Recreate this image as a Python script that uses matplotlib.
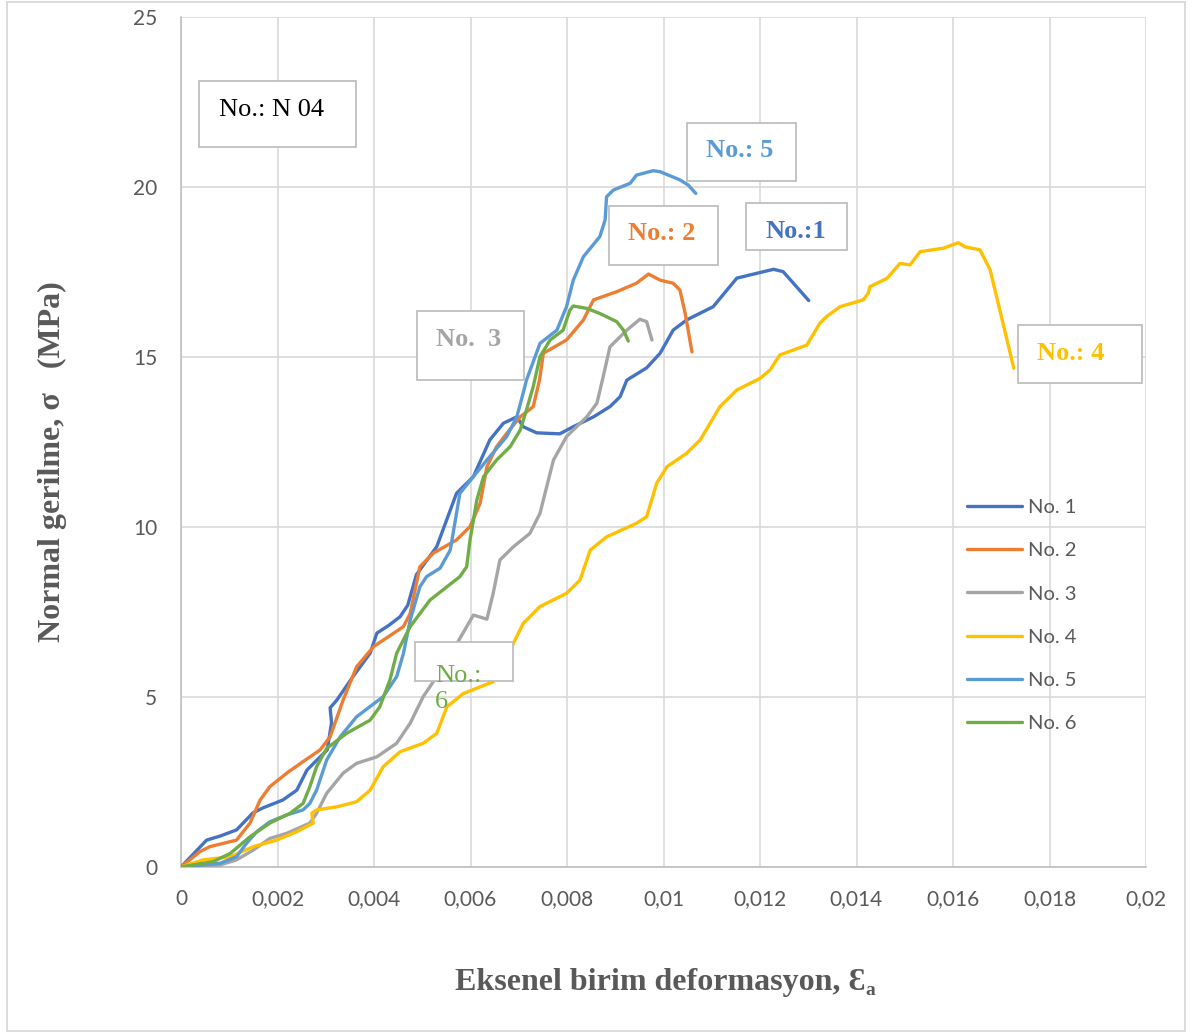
import matplotlib
matplotlib.use("Agg")
import matplotlib.pyplot as plt
from matplotlib.patches import Rectangle

# ---------------- data (strain, stress MPa) ----------------
series_names = ["No. 1", "No. 2", "No. 3", "No. 4", "No. 5", "No. 6"]
series_colors = ["#4472C4", "#ED7D31", "#A5A5A5", "#FFC000", "#5B9BD5", "#70AD47"]

strain_1 = [0, 0.00053, 0.00081, 0.00115, 0.00149, 0.00170, 0.00211, 0.00240, 0.00261, 0.00282,
            0.00303, 0.00312, 0.00309, 0.00323, 0.00356, 0.00392, 0.00406, 0.00430, 0.00454,
            0.00470, 0.00488, 0.00530, 0.00571, 0.00606, 0.00640, 0.00668, 0.00696, 0.00709,
            0.00737, 0.00785, 0.00813, 0.00855, 0.00889, 0.00910, 0.00924, 0.00965, 0.00993,
            0.01020, 0.01048, 0.01103, 0.01152, 0.01228, 0.01248, 0.01301]
stress_1 = [0, 0.79, 0.91, 1.09, 1.59, 1.74, 1.97, 2.26, 2.85, 3.15,
            3.44, 4.24, 4.68, 4.91, 5.59, 6.29, 6.88, 7.10, 7.36,
            7.70, 8.60, 9.42, 10.99, 11.48, 12.56, 13.05, 13.24, 12.95,
            12.77, 12.74, 12.95, 13.24, 13.54, 13.83, 14.32, 14.68, 15.11,
            15.79, 16.09, 16.48, 17.32, 17.58, 17.51, 16.66]

strain_2 = [0, 0.00039, 0.00060, 0.00115, 0.00143, 0.00164, 0.00184, 0.00219, 0.00253, 0.00288,
            0.00309, 0.00336, 0.00364, 0.00399, 0.00461, 0.00475, 0.00495, 0.00523, 0.00571,
            0.00599, 0.00620, 0.00634, 0.00654, 0.00675, 0.00703, 0.00730, 0.00743, 0.00751,
            0.00799, 0.00834, 0.00855, 0.00903, 0.00944, 0.00969, 0.00993, 0.01020, 0.01034,
            0.01045, 0.01059]
stress_2 = [0, 0.45, 0.60, 0.79, 1.29, 1.97, 2.36, 2.76, 3.10, 3.44,
            3.83, 4.91, 5.89, 6.48, 7.07, 7.46, 8.83, 9.23, 9.62,
            10.01, 10.70, 11.77, 12.36, 12.75, 13.24, 13.54, 14.32, 15.11,
            15.50, 16.09, 16.68, 16.92, 17.17, 17.44, 17.26, 17.17, 16.97,
            16.28, 15.15]

strain_3 = [0, 0.00081, 0.00115, 0.00150, 0.00184, 0.00219, 0.00267, 0.00281, 0.00302, 0.00336,
            0.00364, 0.00406, 0.00447, 0.00475, 0.00502, 0.00530, 0.00564, 0.00606, 0.00634,
            0.00647, 0.00661, 0.00689, 0.00723, 0.00744, 0.00758, 0.00772, 0.00799, 0.00841,
            0.00862, 0.00875, 0.00889, 0.00924, 0.00951, 0.00965, 0.00976]
stress_3 = [0, 0.06, 0.21, 0.50, 0.84, 0.99, 1.29, 1.58, 2.17, 2.76,
            3.05, 3.24, 3.64, 4.23, 5.01, 5.60, 6.38, 7.41, 7.29,
            8.05, 9.03, 9.42, 9.81, 10.40, 11.19, 11.97, 12.66, 13.24,
            13.64, 14.42, 15.30, 15.79, 16.11, 16.04, 15.50]

strain_4 = [0, 0.00046, 0.00102, 0.00150, 0.00198, 0.00240, 0.00274, 0.00271, 0.00281, 0.00323,
            0.00364, 0.00392, 0.00419, 0.00454, 0.00502, 0.00530, 0.00551, 0.00585, 0.00647,
            0.00689, 0.00709, 0.00744, 0.00799, 0.00827, 0.00848, 0.00882, 0.00944, 0.00965,
            0.00986, 0.01007, 0.01048, 0.01076, 0.01117, 0.01152, 0.01200, 0.01221, 0.01241,
            0.01297, 0.01324, 0.01338, 0.01366, 0.01414, 0.01424, 0.01428, 0.01463, 0.01490,
            0.01511, 0.01532, 0.01580, 0.01611, 0.01625, 0.01656, 0.01677, 0.01726]
stress_4 = [0, 0.21, 0.30, 0.60, 0.79, 1.04, 1.29, 1.58, 1.68, 1.77,
            1.92, 2.26, 2.95, 3.39, 3.64, 3.93, 4.71, 5.10, 5.45,
            6.58, 7.16, 7.66, 8.05, 8.44, 9.32, 9.71, 10.11, 10.30,
            11.29, 11.77, 12.17, 12.56, 13.54, 14.03, 14.37, 14.62, 15.06,
            15.35, 15.99, 16.19, 16.48, 16.68, 16.87, 17.07, 17.31, 17.75,
            17.71, 18.10, 18.20, 18.36, 18.24, 18.15, 17.56, 14.67]

strain_5 = [0, 0.00081, 0.00115, 0.00136, 0.00157, 0.00184, 0.00219, 0.00253, 0.00267, 0.00281,
            0.00302, 0.00330, 0.00364, 0.00419, 0.00447, 0.00461, 0.00475, 0.00495, 0.00509,
            0.00537, 0.00558, 0.00571, 0.00578, 0.00606, 0.00634, 0.00675, 0.00696, 0.00709,
            0.00716, 0.00744, 0.00779, 0.00799, 0.00813, 0.00834, 0.00868, 0.00879, 0.00882,
            0.00896, 0.00931, 0.00944, 0.00979, 0.00993, 0.01034, 0.01051, 0.01067]
stress_5 = [0, 0.11, 0.30, 0.70, 1.04, 1.33, 1.53, 1.68, 1.87, 2.26,
            3.15, 3.83, 4.42, 5.01, 5.60, 6.28, 7.26, 8.24, 8.54,
            8.79, 9.32, 10.40, 10.99, 11.48, 11.97, 12.66, 13.24, 13.93,
            14.32, 15.40, 15.79, 16.48, 17.26, 17.95, 18.54, 19.03, 19.71,
            19.91, 20.11, 20.35, 20.48, 20.45, 20.21, 20.06, 19.81]

strain_6 = [0, 0.00067, 0.00102, 0.00143, 0.00184, 0.00226, 0.00253, 0.00267, 0.00281, 0.00302,
            0.00343, 0.00392, 0.00412, 0.00433, 0.00447, 0.00475, 0.00516, 0.00551, 0.00578,
            0.00592, 0.00599, 0.00613, 0.00627, 0.00654, 0.00682, 0.00703, 0.00716, 0.00730,
            0.00744, 0.00765, 0.00792, 0.00806, 0.00813, 0.00841, 0.00868, 0.00903, 0.00917,
            0.00927]
stress_6 = [0, 0.16, 0.40, 0.89, 1.29, 1.58, 1.87, 2.36, 2.95, 3.49,
            3.93, 4.32, 4.71, 5.50, 6.29, 7.07, 7.85, 8.24, 8.54,
            8.83, 9.62, 10.79, 11.48, 11.97, 12.36, 12.85, 13.44, 14.13,
            15.01, 15.50, 15.79, 16.38, 16.50, 16.43, 16.28, 16.04, 15.79,
            15.47]

x_ticks = [0, 0.002, 0.004, 0.006, 0.008, 0.010, 0.012, 0.014, 0.016, 0.018, 0.020]
x_tick_labels = ["0", "0,002", "0,004", "0,006", "0,008", "0,01", "0,012", "0,014",
                 "0,016", "0,018", "0,02"]
y_ticks = [0, 5, 10, 15, 20, 25]
y_tick_labels = ["0", "5", "10", "15", "20", "25"]

x_label = "Eksenel birim deformasyon, Ɛ"
x_label_sub = "a"
y_label = "Normal gerilme, σ   (MPa)"

# annotation boxes: (text, color, bold)
box_texts = ["No.: N 04", "No.: 5", "No.: 2", "No.:1", "No.  3", "No.: 4", "No.:\n6"]
box_colors = ["#000000", "#5B9BD5", "#ED7D31", "#4472C4", "#A5A5A5", "#FFC000", "#70AD47"]
box_bold = [False, True, True, True, True, True, False]

# ---------------- figure ----------------
W, H = 1193, 1034
fig = plt.figure(figsize=(W / 100, H / 100), dpi=100)
fig.patch.set_facecolor("white")


def fx(px):
    return px / W


def fy(py):
    return 1 - py / H


ax = fig.add_axes([fx(181), fy(867), fx(1146) - fx(181), fy(17) - fy(867)])
ax.set_xlim(0, 0.02)
ax.set_ylim(0, 25)
ax.set_xticks(x_ticks)
ax.set_xticklabels(x_tick_labels)
ax.set_yticks(y_ticks)
ax.set_yticklabels(y_tick_labels)
ax.grid(True, color="#D9D9D9", linewidth=1.2, zorder=0)
ax.set_axisbelow(True)
for s in ["top", "right"]:
    ax.spines[s].set_visible(False)
for s in ["left", "bottom"]:
    ax.spines[s].set_color("#BFBFBF")
    ax.spines[s].set_linewidth(1.2)
ax.tick_params(length=0, labelcolor="#595959", labelsize=15)
ax.tick_params(axis="y", pad=17)
ax.tick_params(axis="x", pad=16)
for lab in ax.get_xticklabels() + ax.get_yticklabels():
    lab.set_fontfamily("Lato")

all_x = [strain_1, strain_2, strain_3, strain_4, strain_5, strain_6]
all_y = [stress_1, stress_2, stress_3, stress_4, stress_5, stress_6]
for xs, ys, c, n in zip(all_x, all_y, series_colors, series_names):
    ax.plot(xs, ys, color=c, linewidth=2.4, label=n, solid_capstyle="round",
            solid_joinstyle="round", zorder=3)

leg = ax.legend(loc="center left", bbox_to_anchor=(fx(967), fy(615.5)),
                bbox_transform=fig.transFigure, frameon=False,
                prop={"family": "Lato", "size": 14.5}, handlelength=2.75,
                handletextpad=0.3, labelspacing=1.29, borderpad=0, borderaxespad=0)
for t in leg.get_texts():
    t.set_color("#595959")

# axis labels
serif = ["Liberation Serif", "DejaVu Serif"]
xl = fig.text(fx(455), fy(990), x_label, fontsize=23, fontweight="bold", color="#595959",
              family=serif, ha="left", va="baseline")
fig.canvas.draw()
bb = xl.get_window_extent()
fig.text(bb.x1 / W + 0.5 / W, fy(995), x_label_sub, fontsize=14, fontweight="bold",
         color="#595959", family=serif, ha="left", va="baseline")
fig.text(fx(52), fy(462), y_label, fontsize=23, fontweight="bold", color="#595959",
         family=serif, rotation=90, ha="center", va="center")

# annotation boxes
box_rects = [(199, 81, 356, 147), (687, 123, 796, 181), (609, 206, 718, 265),
             (746, 203, 847, 250), (417, 311, 524, 380), (1018, 325, 1142, 383),
             (415, 642, 513, 681)]
text_pos = [(219, 116, "left"), (740, 157, "center"), (662, 240, "center"),
            (795.5, 237.5, "center"), (469, 346, "center"), (1071, 360, "center"),
            (435, 708, "left")]
for (x0, y0, x1, y1), (tx, ty, ha), txt, col, b in zip(box_rects, text_pos, box_texts,
                                                         box_colors, box_bold):
    fig.add_artist(Rectangle((fx(x0), fy(y1)), fx(x1) - fx(x0), fy(y0) - fy(y1),
                             transform=fig.transFigure, facecolor="white",
                             edgecolor="#BFBFBF", linewidth=1.3, zorder=5))
    fig.text(fx(tx), fy(ty), txt, fontsize=19, color=col,
             fontweight="bold" if b else "normal", family=serif, ha=ha, va="baseline",
             ma="left", linespacing=1.25, zorder=6)

# outer chart border
fig.add_artist(Rectangle((fx(7), fy(1031)), fx(1185) - fx(7), fy(2) - fy(1031),
                         transform=fig.transFigure, facecolor="none",
                         edgecolor="#D9D9D9", linewidth=1.3, zorder=10))

fig.savefig("out.png", dpi=100, facecolor="white")
